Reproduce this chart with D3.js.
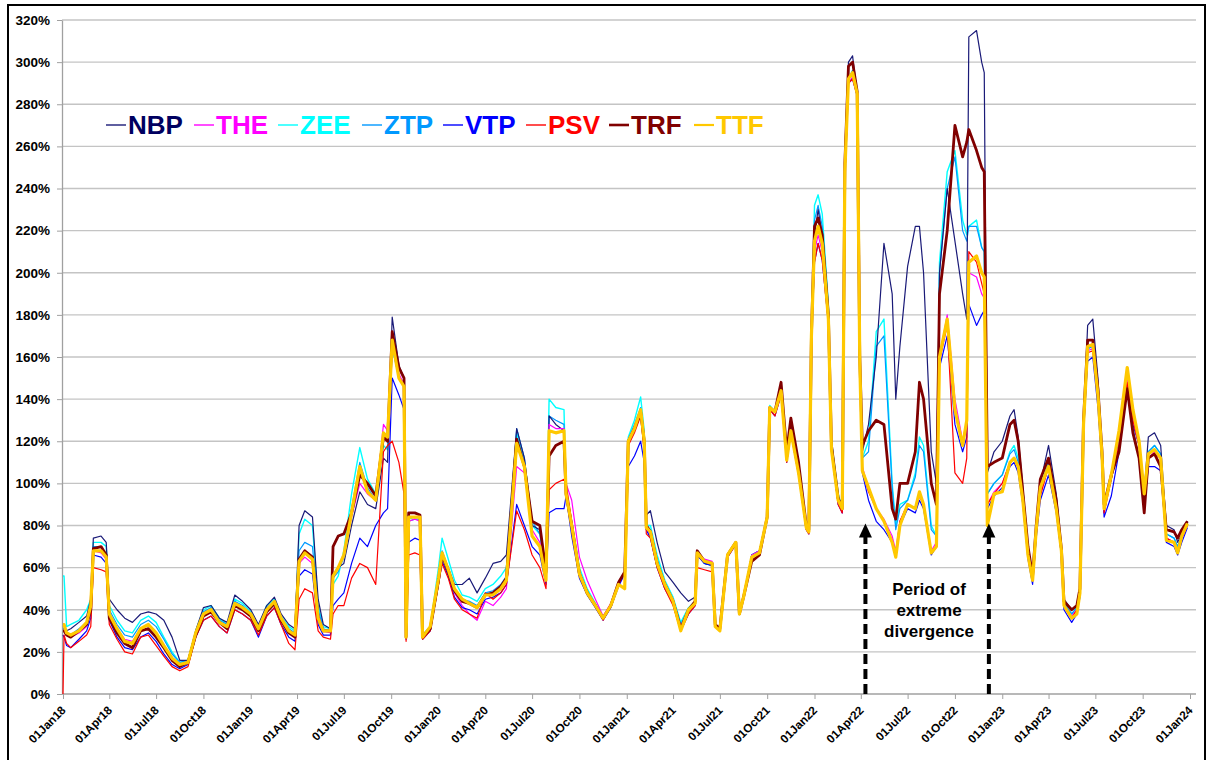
<!DOCTYPE html>
<html><head><meta charset="utf-8">
<script src="https://cdn.jsdelivr.net/npm/d3@7"></script>
<style>
body{margin:0;background:#fff}
svg{display:block}
text{font-family:"Liberation Sans",Arial,Helvetica,sans-serif;font-weight:bold}
</style>
</head><body>
<svg id="chart" width="1208" height="760"></svg>
<script>
// ---------- DATA ----------
const dates = [
 // 2018
 "2018-01-01","2018-01-03","2018-01-08","2018-01-16","2018-02-01","2018-02-16","2018-02-24","2018-03-01","2018-03-16","2018-03-26",
 "2018-04-01","2018-04-16","2018-05-01","2018-05-16","2018-06-01","2018-06-16","2018-07-01","2018-07-16","2018-08-01","2018-08-16",
 "2018-09-01","2018-09-16","2018-10-01","2018-10-16","2018-11-01","2018-11-16","2018-12-01","2018-12-16",
 // 2019
 "2019-01-01","2019-01-16","2019-02-01","2019-02-16","2019-03-01","2019-03-16","2019-03-28","2019-04-05","2019-04-16","2019-05-01",
 "2019-05-12","2019-05-22","2019-06-05","2019-06-10","2019-06-20","2019-07-01","2019-07-16","2019-08-01","2019-08-16","2019-09-01",
 "2019-09-16","2019-09-24","2019-10-03","2019-10-16","2019-10-26","2019-10-30","2019-11-04","2019-11-16","2019-11-26","2019-12-01","2019-12-16",
 // 2020
 "2020-01-01","2020-01-08","2020-01-20","2020-02-01","2020-02-16","2020-03-01","2020-03-16","2020-04-01","2020-04-16","2020-05-01",
 "2020-05-12","2020-06-01","2020-06-16","2020-07-01","2020-07-16","2020-07-28","2020-08-03","2020-08-16","2020-09-01","2020-09-05",
 "2020-09-16","2020-10-01","2020-10-16","2020-11-01","2020-11-16","2020-12-01","2020-12-16","2020-12-28",
 // 2021
 "2021-01-04","2021-01-16","2021-01-28","2021-02-04","2021-02-08","2021-02-16","2021-03-01","2021-03-16","2021-04-01","2021-04-16",
 "2021-05-01","2021-05-14","2021-05-18","2021-06-01","2021-06-16","2021-06-22","2021-07-01","2021-07-16","2021-08-01","2021-08-08",
 "2021-08-16","2021-09-01","2021-09-16","2021-10-01","2021-10-06","2021-10-16","2021-10-28","2021-11-08","2021-11-16","2021-12-01",
 "2021-12-16","2021-12-21","2021-12-26",
 // 2022
 "2022-01-01","2022-01-08","2022-01-16","2022-01-28","2022-02-03","2022-02-16","2022-02-24","2022-03-01","2022-03-08","2022-03-16",
 "2022-03-25","2022-03-30","2022-04-04","2022-04-16","2022-05-01","2022-05-16","2022-06-01","2022-06-08","2022-06-16","2022-07-01",
 "2022-07-16","2022-07-24","2022-08-01","2022-08-16","2022-08-26","2022-09-01","2022-09-16","2022-10-01","2022-10-16","2022-10-24",
 "2022-10-28","2022-11-12","2022-11-22","2022-11-27","2022-12-03","2022-12-16",
 // 2023
 "2023-01-01","2023-01-16","2023-01-24","2023-02-01","2023-02-10","2023-02-20","2023-03-01","2023-03-08","2023-03-16","2023-04-01",
 "2023-04-16","2023-04-26","2023-05-01","2023-05-16","2023-05-26","2023-06-01","2023-06-08","2023-06-16","2023-06-26","2023-07-06",
 "2023-07-14","2023-07-18","2023-08-01","2023-08-16","2023-09-01","2023-09-12","2023-09-24","2023-10-04","2023-10-12","2023-10-24",
 "2023-11-05","2023-11-16","2023-12-01","2023-12-08","2023-12-16","2023-12-27"
];

const NBP = [
 32,32,30,31,34,37,45,74,75,72,45,40,36,34,38,39,38,35,27,16,16,30,41,42,36,34,47,44,
 40,33,42,46,38,33,31,80,87,84,45,33,31,55,60,62,80,96,90,88,112,110,179,156,150,28,84,84,84,28,32,
 55,66,60,52,52,55,48,55,62,63,66,126,112,80,78,60,132,128,125,95,80,58,48,42,36,42,52,58,
 120,126,134,120,85,87,72,58,53,48,44,46,66,62,61,33,31,66,72,38,46,66,68,84,136,134,146,112,128,108,80,78,170,
 218,230,218,182,120,94,88,258,300,303,285,160,115,128,160,214,190,140,165,203,222,222,200,115,100,200,240,215,190,178,312,315,300,295,105,115,
 120,132,135,122,98,70,56,80,100,118,95,70,45,40,42,50,130,175,178,150,115,88,102,120,150,128,118,96,122,124,118,80,78,72,76,82
];
const THE = [
 30,30,28,27,29,32,40,68,67,64,38,31,26,25,31,33,29,23,17,14,15,29,37,39,34,31,42,40,
 37,30,39,43,35,30,28,62,65,62,38,30,29,56,60,66,84,100,95,92,128,125,168,152,147,27,82,83,82,27,31,
 54,65,58,48,42,38,35,44,42,46,50,108,105,78,72,56,128,126,126,100,92,65,54,45,37,43,53,58,
 120,127,134,120,78,76,62,52,45,32,40,44,66,64,63,33,31,66,72,38,46,66,68,84,136,134,144,112,126,106,80,78,170,
 210,218,210,178,117,92,86,245,290,293,285,158,108,97,88,83,75,68,82,90,88,94,90,68,72,160,180,140,120,130,200,198,190,188,90,96,
 100,110,112,108,92,66,54,76,95,108,88,67,42,37,40,48,128,163,164,140,112,86,104,118,150,130,118,95,112,115,112,74,72,68,74,80
];
const ZEE = [
 56,56,32,33,35,40,45,72,72,70,42,35,30,29,35,37,34,27,20,15,16,30,40,42,36,33,45,43,
 39,32,42,45,37,32,30,76,83,80,42,32,31,52,56,68,95,117,102,95,118,116,165,150,147,28,83,84,84,28,32,
 60,74,64,54,47,46,44,50,52,56,60,124,110,80,76,58,140,136,135,96,82,60,50,43,36,42,52,58,
 122,130,141,125,80,80,66,54,46,34,41,44,67,62,61,33,31,66,72,38,46,66,68,84,137,134,146,112,128,106,80,78,172,
 232,237,228,185,120,95,88,250,292,296,286,160,112,120,172,178,100,80,90,92,105,122,118,80,75,205,248,258,225,218,222,225,212,210,95,100,
 104,115,118,112,94,68,55,78,98,110,90,68,43,38,41,48,128,164,165,142,113,88,103,120,152,132,120,96,115,118,114,76,74,70,75,81
];
const ZTP = [
 31,31,29,28,31,34,42,70,70,66,40,33,28,27,33,35,32,26,19,15,16,30,39,41,35,33,44,42,
 38,31,41,44,36,31,29,68,72,70,40,31,30,55,58,65,88,110,98,92,122,120,165,150,147,27,82,83,83,27,32,
 56,68,60,50,45,44,42,48,49,52,56,126,112,82,76,58,132,130,128,95,80,58,48,42,36,42,52,58,
 121,128,136,122,80,78,64,53,45,33,40,44,67,62,61,33,31,66,72,38,46,66,68,84,136,134,146,112,128,106,80,78,171,
 225,232,222,183,118,94,88,250,292,296,286,160,112,115,165,170,98,78,88,92,103,118,115,78,75,200,240,255,220,215,222,222,212,210,95,100,
 104,114,116,110,94,68,55,78,97,110,90,68,43,38,41,48,128,164,165,142,113,88,103,120,152,132,120,96,115,118,114,76,74,70,75,81
];
const VTP = [
 28,27,23,22,26,30,36,66,65,62,35,27,22,21,27,29,25,19,14,12,14,27,35,37,32,29,40,38,
 35,27,37,41,33,27,25,56,59,57,33,28,28,42,45,48,62,74,70,80,86,88,150,142,135,26,72,74,73,26,30,
 52,63,56,46,41,40,38,45,46,48,52,90,80,70,66,52,86,88,88,94,75,55,47,41,35,41,51,57,
 108,113,120,110,78,74,60,50,43,30,38,42,66,62,61,32,30,65,71,38,46,65,67,83,135,132,142,110,124,104,78,76,168,
 205,214,206,176,116,90,86,245,290,292,284,156,105,92,82,78,72,66,80,88,86,92,88,66,70,155,170,128,115,122,185,175,180,182,88,94,
 98,108,110,105,90,64,52,74,92,104,86,66,40,34,38,46,125,158,160,136,108,84,94,115,145,126,112,88,108,108,106,72,70,66,72,79
];
const PSV = [
 0,28,24,22,25,28,32,60,59,58,33,26,20,19,27,28,23,18,13,11,13,27,35,37,32,29,40,38,
 35,28,37,41,33,24,21,45,50,48,30,27,26,38,42,42,55,62,60,52,115,118,120,110,95,25,66,67,66,26,30,
 52,62,55,45,40,38,36,48,45,48,52,87,78,66,60,50,97,100,102,100,82,58,49,42,35,42,52,58,
 118,124,132,115,76,74,60,50,42,30,38,42,60,59,58,32,30,65,71,38,46,65,67,83,135,132,142,110,124,104,78,76,168,
 205,214,206,176,116,90,86,245,290,292,284,156,106,96,88,82,73,66,82,90,88,94,90,67,70,158,175,105,100,112,210,205,195,190,90,95,
 100,110,112,108,92,66,54,76,94,108,88,67,42,36,40,48,126,162,163,140,112,86,102,118,148,130,118,94,112,114,112,74,72,68,74,80
];
const TRF = [
 30,30,28,27,30,33,40,69,70,66,36,29,24,22,30,31,27,22,16,13,15,28,37,39,34,31,42,40,
 37,30,39,43,35,29,27,64,68,65,36,30,30,70,75,76,86,104,100,94,122,120,172,155,150,27,86,86,85,27,31,
 54,66,58,49,44,43,41,47,48,51,55,121,108,82,80,58,113,118,120,95,80,57,48,42,36,42,53,58,
 120,126,134,120,80,77,62,52,44,31,40,44,68,63,62,33,31,66,72,38,46,63,66,84,136,134,148,115,131,110,80,78,170,
 222,226,218,180,118,93,88,252,298,300,286,160,118,125,130,128,88,83,100,100,115,148,140,100,90,190,220,270,255,262,268,258,250,248,108,110,
 112,128,130,120,96,70,56,80,102,112,92,69,44,40,42,50,130,168,168,145,115,90,104,115,145,124,112,86,112,114,108,78,77,74,78,82
];
const TTF = [
 33,33,29,28,30,34,42,68,68,65,38,31,25,24,31,33,29,23,17,14,15,29,38,40,34,32,43,41,
 38,31,40,44,36,30,28,63,67,64,36,30,30,56,60,66,86,108,96,92,124,122,168,150,146,27,84,84,84,27,32,
 55,67,59,50,45,43,41,47,47,50,54,119,108,75,70,54,125,124,125,95,80,57,48,42,36,42,52,50,
 120,126,135,120,79,77,62,52,44,30,40,43,67,63,62,32,30,66,72,38,46,65,67,84,136,134,144,111,125,105,79,77,170,
 215,222,214,178,116,92,88,248,292,295,285,158,106,98,88,82,72,65,80,90,88,96,90,67,70,160,178,135,118,130,205,208,200,198,80,95,
 96,110,112,108,92,66,54,78,98,108,88,68,42,36,38,48,128,165,166,142,113,88,104,125,155,135,120,95,114,116,112,73,72,67,75,81
];

const seriesNames = ["NBP","THE","ZEE","ZTP","VTP","PSV","TRF","TTF"];
const yTicks = [0,20,40,60,80,100,120,140,160,180,200,220,240,260,280,300,320];
const annotationLines = ["Period of","extreme","divergence"];
const divergenceStart = "2022-04-10";
const divergenceEnd = "2022-12-06";

// ---------- STYLE ----------
const seriesValues = {NBP, THE, ZEE, ZTP, VTP, PSV, TRF, TTF};
const colors = {NBP:"#1a1a78", THE:"#ff00ff", ZEE:"#00ffff", ZTP:"#0099ff", VTP:"#0000ff", PSV:"#ff0000", TRF:"#800000", TTF:"#ffc800"};
const textColors = {NBP:"#000060", THE:"#ff00ff", ZEE:"#00ffff", ZTP:"#0099ff", VTP:"#0000ff", PSV:"#ff0000", TRF:"#800000", TTF:"#ffc800"};
const widths = {NBP:1.2, THE:1.2, ZEE:1.4, ZTP:1.2, VTP:1.2, PSV:1.2, TRF:2.8, TTF:3.2};
const drawOrder = ["ZEE","ZTP","NBP","THE","VTP","PSV","TRF","TTF"];

const parse = d3.timeParse("%Y-%m-%d");
const dateObjs = dates.map(parse);

const svg = d3.select("#chart");
const plotL = 63, plotR = 1190, plotT = 20, plotB = 694;

const x = d3.scaleTime().domain([new Date(2018,0,1), new Date(2024,0,1)]).range([plotL, plotR]);
const y = d3.scaleLinear().domain([0,320]).range([plotB, plotT]);

// frame
svg.append("rect").attr("x",8).attr("y",5).attr("width",1197).attr("height",770)
  .attr("fill","none").attr("stroke","#000").attr("stroke-width",2);

// gridlines
svg.append("g").selectAll("line").data(yTicks.filter(d=>d>0)).join("line")
  .attr("x1",plotL-1).attr("x2",1196).attr("y1",d=>y(d)).attr("y2",d=>y(d))
  .attr("stroke","#c4c4c4").attr("stroke-width",1.3);

// y axis
const yAxis = svg.append("g").attr("transform",`translate(${plotL-1},0)`)
  .call(d3.axisLeft(y).tickValues(yTicks).tickFormat(d=>d+"%").tickSize(5).tickSizeOuter(0));
yAxis.select(".domain").attr("stroke","#a0a0a0").attr("stroke-width",1.3);
yAxis.selectAll(".tick line").attr("stroke","#a0a0a0");
yAxis.selectAll(".tick text").attr("x",-12).attr("fill","#000")
  .style("font-size","13.5px").style("font-weight","bold").style("font-family","'Liberation Sans',Arial,sans-serif");

// x axis
const xAxis = svg.append("g").attr("transform",`translate(0,${plotB})`)
  .call(d3.axisBottom(x).ticks(d3.timeMonth.every(3)).tickFormat(d3.timeFormat("%d%b%y")).tickSize(5).tickSizeOuter(0));
xAxis.select(".domain").attr("stroke","#a0a0a0").attr("stroke-width",1.3).attr("d",`M${plotL-1},0H1196`);
xAxis.selectAll(".tick line").attr("stroke","#a0a0a0");
xAxis.selectAll(".tick text").attr("x",0).attr("y",0).attr("dy",0)
  .attr("text-anchor","end").attr("transform","translate(3,17) rotate(-45)").attr("fill","#000")
  .style("font-size","11.8px").style("font-weight","bold").style("font-family","'Liberation Sans',Arial,sans-serif");

// series lines
const clipId = "plotclip";
svg.append("clipPath").attr("id",clipId).append("rect").attr("x",plotL-1).attr("y",plotT-8).attr("width",plotR-plotL+8).attr("height",plotB-plotT+9);
const line = d3.line().x((d,i)=>x(dateObjs[i])).y(d=>y(d));
const lg = svg.append("g").attr("clip-path",`url(#${clipId})`);
drawOrder.forEach(name=>{
  lg.append("path").datum(seriesValues[name])
    .attr("d",line).attr("fill","none").attr("stroke",colors[name])
    .attr("stroke-width",widths[name]).attr("stroke-linejoin","round");
});

// legend
const legX = [106,194,278,362,443,526,609,694];
const leg = svg.append("g");
seriesNames.forEach((name,i)=>{
  const gx = legX[i];
  leg.append("line").attr("x1",gx).attr("x2",gx+20).attr("y1",125).attr("y2",125)
    .attr("stroke",colors[name]).attr("stroke-width", name==="TRF"?2.6:(name==="TTF"?2.2:1.4));
  leg.append("text").attr("x",gx+22).attr("y",134).attr("fill",textColors[name])
    .style("font-size","26px").text(name);
});

// annotation arrows
const arrowTip = y(81);
[divergenceStart, divergenceEnd].forEach(ds=>{
  const ax = x(parse(ds));
  svg.append("line").attr("x1",ax).attr("x2",ax).attr("y1",plotB).attr("y2",arrowTip+12)
    .attr("stroke","#000").attr("stroke-width",4).attr("stroke-dasharray","10,5");
  svg.append("path").attr("d",`M${ax},${arrowTip} L${ax-6.5},${arrowTip+14} L${ax+6.5},${arrowTip+14} Z`).attr("fill","#000");
});
const ann = svg.append("text").attr("text-anchor","middle").attr("fill","#000").style("font-size","17px");
annotationLines.forEach((t,i)=>{
  ann.append("tspan").attr("x",929).attr("y",595+i*21).text(t);
});
</script>
</body></html>
